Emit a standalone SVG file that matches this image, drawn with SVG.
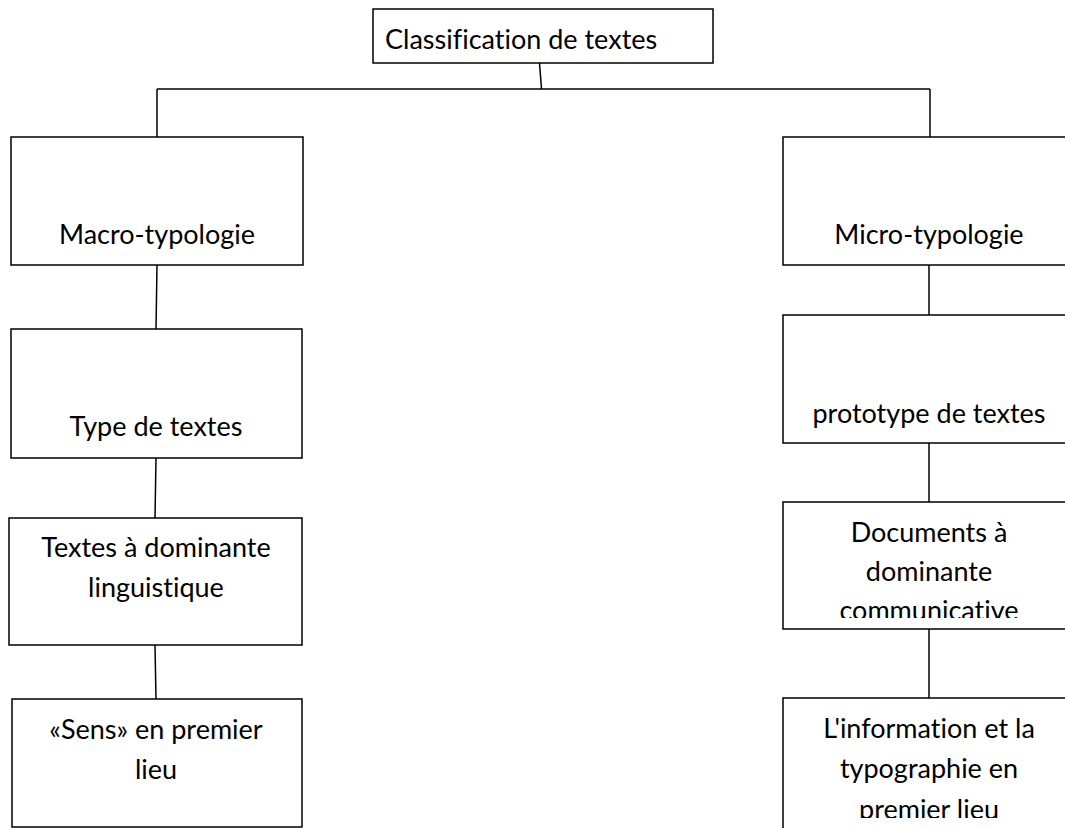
<svg xmlns="http://www.w3.org/2000/svg" width="1065" height="828" viewBox="0 0 1065 828">
  <style>
    .box { fill: #ffffff; stroke: #000000; stroke-width: 1.5; }
    .wire { fill: none; stroke: #000000; stroke-width: 1.5; }
    .lbl { font-family: Lato, "Open Sans", "Liberation Sans", sans-serif; font-size: 27px; fill: #000000; font-variant-ligatures: none; }
    .mid { text-anchor: middle; }
  </style>
  <defs>
    <!-- text areas of the two boxes whose last line overflows -->
    <clipPath id="clip-docs"><rect x="783" y="502" width="282" height="116"/></clipPath>
    <clipPath id="clip-info"><rect x="783" y="698" width="282" height="120"/></clipPath>
  </defs>
  <rect x="0" y="0" width="1065" height="828" fill="#ffffff"/>

  <!-- connectors -->
  <g id="connectors">
    <path class="wire" d="M539.5 63 L541.5 89"/>
    <path class="wire" d="M157 89 L930 89"/>
    <path class="wire" d="M157 89 L157 137"/>
    <path class="wire" d="M930 89 L930 137"/>
    <path class="wire" d="M157 265 L156 329"/>
    <path class="wire" d="M156 458 L155 518"/>
    <path class="wire" d="M155 645 L156 699"/>
    <path class="wire" d="M929 265 L929 315"/>
    <path class="wire" d="M929 443 L929 502"/>
    <path class="wire" d="M929 629 L929 698"/>
  </g>

  <!-- root -->
  <g id="node-classification">
    <rect class="box" x="373" y="9" width="340" height="54"/>
    <text class="lbl" x="385" y="49">Classification de textes</text>
  </g>

  <!-- left branch -->
  <g id="node-macro">
    <rect class="box" x="11" y="137" width="292" height="128"/>
    <text class="lbl mid" x="157" y="244">Macro-typologie</text>
  </g>
  <g id="node-type">
    <rect class="box" x="11" y="329" width="291" height="129"/>
    <text class="lbl mid" x="156" y="436">Type de textes</text>
  </g>
  <g id="node-linguistique">
    <rect class="box" x="9" y="518" width="293" height="127"/>
    <text class="lbl mid" x="156" y="557">Textes à dominante</text>
    <text class="lbl mid" x="156" y="597">linguistique</text>
  </g>
  <g id="node-sens">
    <rect class="box" x="12" y="699" width="290" height="128"/>
    <text class="lbl mid" x="156" y="739">«Sens» en premier</text>
    <text class="lbl mid" x="156" y="779">lieu</text>
  </g>

  <!-- right branch -->
  <g id="node-micro">
    <rect class="box" x="783" y="137" width="300" height="128"/>
    <text class="lbl mid" x="929" y="244">Micro-typologie</text>
  </g>
  <g id="node-prototype">
    <rect class="box" x="783" y="315" width="300" height="128"/>
    <text class="lbl mid" x="929" y="423">prototype de textes</text>
  </g>
  <g id="node-communicative">
    <rect class="box" x="783" y="502" width="300" height="127"/>
    <g clip-path="url(#clip-docs)">
      <text class="lbl mid" x="929" y="542">Documents à</text>
      <text class="lbl mid" x="929" y="581">dominante</text>
      <text class="lbl mid" x="929" y="620">communicative</text>
    </g>
  </g>
  <g id="node-information">
    <rect class="box" x="783" y="698" width="300" height="140"/>
    <g clip-path="url(#clip-info)">
      <text class="lbl mid" x="929" y="738">L'information et la</text>
      <text class="lbl mid" x="929" y="778">typographie en</text>
      <text class="lbl mid" x="929" y="819">premier lieu</text>
    </g>
  </g>
</svg>
